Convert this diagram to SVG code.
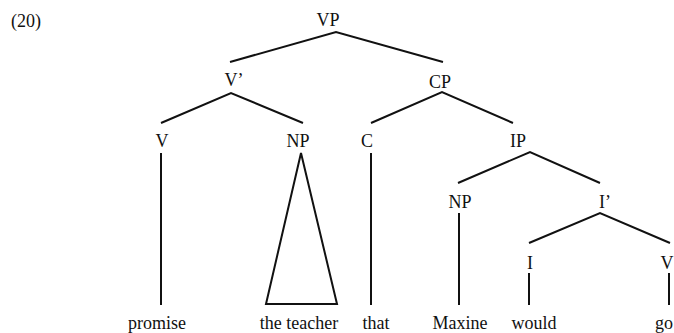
<svg xmlns="http://www.w3.org/2000/svg" width="674" height="333" viewBox="0 0 674 333">
<style>
text{font-family:"Liberation Serif","Times New Roman",serif;font-size:18px;fill:#111;text-anchor:middle}
.e{stroke:#111;stroke-width:2;fill:none;stroke-linecap:butt;stroke-linejoin:miter}
</style>
<rect width="674" height="333" fill="#fff"/>
<text x="26" y="27">(20)</text>
<g id="VP"><text x="328" y="26">VP</text></g>
<g id="Vbar"><text x="234" y="86">V’</text></g>
<g id="CP"><text x="440" y="88">CP</text></g>
<g id="V1"><text x="162" y="147">V</text></g>
<g id="NP1"><text x="298" y="147">NP</text></g>
<g id="C"><text x="367" y="147">C</text></g>
<g id="IP"><text x="518" y="147">IP</text></g>
<g id="NP2"><text x="460" y="208">NP</text></g>
<g id="Ibar"><text x="605" y="208">I’</text></g>
<g id="I"><text x="530" y="269">I</text></g>
<g id="V2"><text x="667" y="269">V</text></g>
<g id="w-promise"><text x="157" y="329">promise</text></g>
<g id="w-theteacher"><text x="299" y="329">the teacher</text></g>
<g id="w-that"><text x="376" y="329">that</text></g>
<g id="w-Maxine"><text x="460" y="329">Maxine</text></g>
<g id="w-would"><text x="534" y="329">would</text></g>
<g id="w-go"><text x="664" y="329">go</text></g>
<g id="connectors" class="e">
<polyline points="230,62 336,32 443,62"/>
<polyline points="161,123 231,93 303,123"/>
<polyline points="371,123 442,92 513,123"/>
<line x1="161" y1="153" x2="161" y2="305"/>
<polygon points="301,153 266,304 337,304"/>
<line x1="371" y1="153" x2="371" y2="305"/>
<polyline points="458,183 530,152 600,183"/>
<line x1="459" y1="213" x2="459" y2="305"/>
<polyline points="529,243 600,213 670,243"/>
<line x1="529" y1="273" x2="529" y2="305"/>
<line x1="669" y1="273" x2="669" y2="305"/>
</g>
</svg>
